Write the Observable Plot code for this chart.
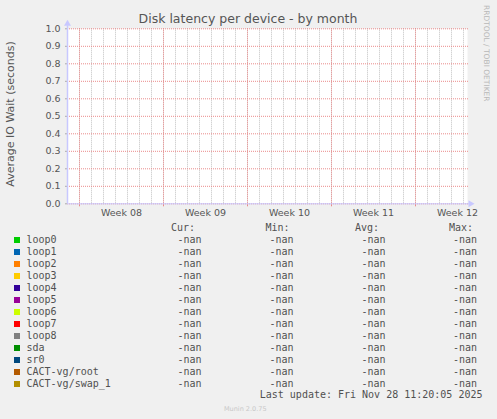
<!DOCTYPE html>
<html>
<head>
<meta charset="utf-8">
<script src="https://cdn.jsdelivr.net/npm/d3@7"></script>
<script src="https://cdn.jsdelivr.net/npm/@observablehq/plot@0.6"></script>
<style>
  html, body { margin: 0; padding: 0; background: #f0f0f0; }
  #wrap { position: relative; width: 497px; height: 419px; background: #f0f0f0; overflow: hidden; }
  #wrap > svg { position: absolute; left: 0; top: 0; }
</style>
</head>
<body>
<div id="wrap"></div>
<script>
// ---- data ----
const chartTitle = "Disk latency per device - by month";
const yLabel = "Average IO Wait (seconds)";
const watermark = "RRDTOOL / TOBI OETIKER";
const yTicks = [0.0, 0.1, 0.2, 0.3, 0.4, 0.5, 0.6, 0.7, 0.8, 0.9, 1.0];
const weekStartDates = ["2025-02-17", "2025-02-24", "2025-03-03", "2025-03-10", "2025-03-17"];
const weekLabels = ["Week 08", "Week 09", "Week 10", "Week 11", "Week 12"];
const rangeStart = "2025-02-16T00:00Z";
const rangeEnd = "2025-03-21T08:00Z";
const devices = ["loop0", "loop1", "loop2", "loop3", "loop4", "loop5", "loop6", "loop7", "loop8", "sda", "sr0", "CACT-vg/root", "CACT-vg/swap_1"];
const colors = ["#00cc00", "#0066b3", "#ff8000", "#ffcc00", "#330099", "#990099", "#ccff00", "#ff0000", "#808080", "#008f00", "#00487d", "#b35a00", "#b38f00"];
const curValues = ["-nan", "-nan", "-nan", "-nan", "-nan", "-nan", "-nan", "-nan", "-nan", "-nan", "-nan", "-nan", "-nan"];
const minValues = ["-nan", "-nan", "-nan", "-nan", "-nan", "-nan", "-nan", "-nan", "-nan", "-nan", "-nan", "-nan", "-nan"];
const avgValues = ["-nan", "-nan", "-nan", "-nan", "-nan", "-nan", "-nan", "-nan", "-nan", "-nan", "-nan", "-nan", "-nan"];
const maxValues = ["-nan", "-nan", "-nan", "-nan", "-nan", "-nan", "-nan", "-nan", "-nan", "-nan", "-nan", "-nan", "-nan"];
const columnHeads = ["Cur:", "Min:", "Avg:", "Max:"];
const lastUpdate = "Last update: Fri Nov 28 11:20:05 2025";
const version = "Munin 2.0.75";

// ---- derived ----
const xDomain = [new Date(rangeStart), new Date(rangeEnd)];
const yDomain = [0, 1];
const weekStarts = weekStartDates.map(d => new Date(d + "T00:00Z"));
const labelPos = weekStarts.map(d => d3.utcHour.offset(d, 84));
const days = d3.utcDay.range(d3.utcDay.offset(xDomain[0], 1), xDomain[1]);
const labelOf = new Map(labelPos.map((d, i) => [+d, weekLabels[i]]));

const majorColor = "#ea8a8a";
const minorColor = "#c0c0c0";
const axisColor = "#c8c8ff";

const plot = Plot.plot({
  width: 497,
  height: 220,
  marginLeft: 67,
  marginRight: 30,
  marginTop: 28.3,
  marginBottom: 16.7,
  style: { background: "transparent", fontFamily: "DejaVu Sans", fontSize: "9.5px", color: "#555", overflow: "visible" },
  x: { type: "utc", domain: xDomain },
  y: { domain: yDomain },
  marks: [
    Plot.frame({ fill: "white", stroke: null }),
    Plot.ruleX(days, { stroke: minorColor, strokeDasharray: "1 1" }),
    Plot.ruleX(weekStarts, { stroke: majorColor, strokeDasharray: "1 1" }),
    Plot.ruleY(yTicks, { stroke: majorColor, strokeDasharray: "1 1", insetRight: -2 }),
    Plot.axisY(yTicks, { tickFormat: d3.format(".1f"), tickSize: 2, tickPadding: 5, stroke: "#aaa", fill: "#555", label: null, fontSize: 9.5 }),
    Plot.axisX(weekStarts, { tickSize: 3, tickFormat: () => "", stroke: majorColor, label: null }),
    Plot.axisX(labelPos, { tickSize: 0, tickPadding: 5, tickFormat: d => labelOf.get(+d), fill: "#555", label: null, fontSize: 9.5 }),
    Plot.ruleY([yDomain[0]], { stroke: axisColor, insetRight: -2 }),
    Plot.ruleX([xDomain[0]], { stroke: axisColor, strokeWidth: 1.5, insetTop: -3 }),
    Plot.dot([yDomain[1]], { x: () => xDomain[0], y: d => d, symbol: "triangle", r: 2.6, fill: axisColor, stroke: null, dy: -5 }),
    Plot.dot([yDomain[0]], { x: () => xDomain[1], y: d => d, symbol: "triangle", r: 2.6, fill: axisColor, stroke: null, dx: 3, rotate: 90 })
  ]
});

const wrap = document.getElementById("wrap");
wrap.appendChild(plot);

// ---- texts & legend overlay ----
const svg = d3.select(wrap).append("svg")
  .attr("width", 497).attr("height", 419)
  .style("pointer-events", "none");

svg.append("text")
  .attr("x", 248).attr("y", 23.3)
  .attr("text-anchor", "middle")
  .style("font", "12.5px 'DejaVu Sans'").attr("fill", "#555")
  .text(chartTitle);

svg.append("text")
  .attr("transform", "translate(14.4,114) rotate(-90)")
  .attr("text-anchor", "middle")
  .style("font", "11px 'DejaVu Sans'").attr("fill", "#555")
  .text(yLabel);

svg.append("text")
  .attr("transform", "translate(484.4,5) rotate(90)")
  .attr("textLength", 96.5).attr("lengthAdjust", "spacing")
  .style("font", "7.5px 'DejaVu Sans'").attr("fill", "#b8b8b8")
  .text(watermark);

const mono = "10px 'DejaVu Sans Mono'";
const legendInk = "#505050";
const base0 = 243, step = 12;
const colRight = [201.5, 293.5, 385.5, 477];
const headRight = [195, 289.5, 379, 473];

svg.append("g").selectAll("text").data(columnHeads).join("text")
  .attr("x", (d, i) => headRight[i]).attr("y", 230.5)
  .attr("text-anchor", "end")
  .style("font", mono).attr("fill", legendInk)
  .text(d => d);

const cols = [curValues, minValues, avgValues, maxValues];
const rows = svg.append("g").selectAll("g").data(devices).join("g")
  .attr("transform", (d, i) => `translate(0,${base0 + i * step})`);
rows.append("rect")
  .attr("x", 14).attr("y", -6).attr("width", 6).attr("height", 6)
  .attr("fill", (d, i) => colors[i]);
rows.append("text")
  .attr("x", 26.5).attr("y", 0)
  .style("font", mono).attr("fill", legendInk)
  .text(d => d);
cols.forEach((c, j) => {
  rows.append("text")
    .attr("x", colRight[j]).attr("y", 0)
    .attr("text-anchor", "end")
    .style("font", mono).attr("fill", legendInk)
    .text((d, i) => c[i]);
});

svg.append("text")
  .attr("x", 482.5).attr("y", 398.3)
  .attr("text-anchor", "end")
  .style("font", mono).attr("fill", legendInk)
  .text(lastUpdate);

svg.append("text")
  .attr("x", 224).attr("y", 411)
  .style("font", "6.5px 'DejaVu Sans'").attr("fill", "#c8c8c8")
  .text(version);
</script>
</body>
</html>
